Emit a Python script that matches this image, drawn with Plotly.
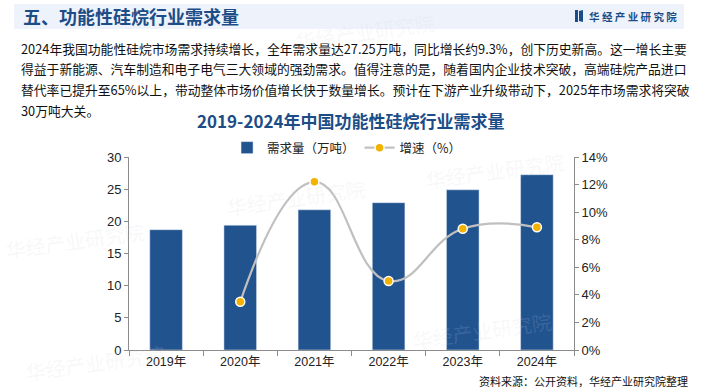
import plotly.graph_objects as go

years = ["2019年", "2020年", "2021年", "2022年", "2023年", "2024年"]
demand = [18.7, 19.4, 21.8, 22.9, 24.9, 27.25]
growth_years = ["2020年", "2021年", "2022年", "2023年", "2024年"]
growth = [3.5, 12.2, 5.0, 8.8, 8.9]

page_title = "五、功能性硅烷行业需求量"
chart_title = "2019-2024年中国功能性硅烷行业需求量"
paragraph = [
    "2024年我国功能性硅烷市场需求持续增长，全年需求量达27.25万吨，同比增长约9.3%，创下历史新高。这一增长主要",
    "得益于新能源、汽车制造和电子电气三大领域的强劲需求。值得注意的是，随着国内企业技术突破，高端硅烷产品进口",
    "替代率已提升至65%以上，带动整体市场价值增长快于数量增长。预计在下游产业升级带动下，2025年市场需求将突破",
    "30万吨大关。",
]
source = "资料来源：公开资料，华经产业研究院整理"
brand = "华 经 产 业 研 究 院"

FONT = "Arial, 'Liberation Sans', 'Noto Sans CJK SC', sans-serif"
CJK = "'Noto Sans CJK SC', 'Microsoft YaHei', sans-serif"
BLUE = "#21538f"
DARK = "#1d4d87"

W, H = 704, 392
L, R, T, B = 129, 574, 157, 350


def PX(x):
    return (x - L) / (R - L)


def PY(y):
    return (B - y) / (B - T)


fig = go.Figure()
fig.add_trace(go.Bar(
    x=years, y=demand, name="需求量（万吨）", marker_color=BLUE, width=0.44,
))
fig.add_trace(go.Scatter(
    x=growth_years, y=growth, name="增速（%）", yaxis="y2", mode="lines+markers",
    line=dict(color="#c0c0c0", width=2.2, shape="spline", smoothing=1.3),
    marker=dict(color="#f2b200", size=9, line=dict(color="white", width=1.5)),
))

annotations = []
annotations.append(dict(text="<b>" + page_title + "</b>", x=PX(21), y=PY(16), xref="paper", yref="paper",
                        xanchor="left", yanchor="middle", showarrow=False,
                        font=dict(family=CJK, size=18, color=DARK)))
annotations.append(dict(text="<b>" + brand + "</b>", x=PX(587), y=PY(16), xref="paper", yref="paper",
                        xanchor="left", yanchor="middle", showarrow=False,
                        font=dict(family=CJK, size=10.5, color=DARK)))
for i, line in enumerate(paragraph):
    yy = 48 + i * 20.8
    annotations.append(dict(text=line, x=PX(19), y=PY(yy), xref="paper", yref="paper",
                            xanchor="left", yanchor="middle", showarrow=False,
                            font=dict(family=CJK, size=12.8, color="#111111")))
annotations.append(dict(text="<b>" + chart_title + "</b>", x=PX(351), y=PY(120), xref="paper", yref="paper",
                        xanchor="center", yanchor="middle", showarrow=False,
                        font=dict(family=CJK, size=17, color=DARK)))
annotations.append(dict(text=source, x=PX(690), y=PY(381), xref="paper", yref="paper",
                        xanchor="right", yanchor="middle", showarrow=False,
                        font=dict(family=CJK, size=11, color="#111111")))
for (wx, wy) in [(296, 197), (75, 240), (95, 362), (365, 32), (495, 170), (482, 330)]:
    annotations.append(dict(text="华经产业研究院", x=PX(wx), y=PY(wy), xref="paper", yref="paper",
                            xanchor="center", yanchor="middle", showarrow=False, textangle=-8,
                            font=dict(family=CJK, size=20, color="rgba(205,210,220,0.16)")))

shapes = [
    dict(type="rect", xref="paper", yref="paper", x0=PX(14), x1=PX(684), y0=PY(29), y1=PY(4),
         fillcolor="#eef3fb", line=dict(width=0), layer="below"),
    dict(type="rect", xref="paper", yref="paper", x0=PX(575), x1=PX(578), y0=PY(22), y1=PY(10),
         fillcolor=DARK, line=dict(width=0)),
    dict(type="path", xref="paper", yref="paper",
         path=f"M {PX(579)},{PY(11)} L {PX(583)},{PY(10)} L {PX(583)},{PY(22)} L {PX(579)},{PY(21)} Z",
         fillcolor=DARK, line=dict(width=0)),
]

fig.update_layout(
    width=W, height=H,
    margin=dict(l=L, r=W - R, t=T, b=H - B, pad=0),
    paper_bgcolor="white", plot_bgcolor="rgba(0,0,0,0)",
    font=dict(family=FONT, size=12, color="#222222"),
    showlegend=True,
    legend=dict(orientation="h", x=0.49, xanchor="center", y=PY(148), yanchor="middle",
                font=dict(family=CJK, size=12.5, color="#222222"), bgcolor="rgba(0,0,0,0)",
                itemwidth=30, tracegroupgap=0),
    bargap=0.3,
    xaxis=dict(showline=True, linecolor="#8c8c8c", linewidth=1, ticks="outside", tickson="boundaries",
               ticklen=5, tickcolor="#8c8c8c", showgrid=False, tickfont=dict(family=FONT, size=12.5, color="#222")),
    yaxis=dict(range=[0, 30], dtick=5, showline=True, linecolor="#8c8c8c", ticks="outside", ticklen=4,
               tickcolor="#8c8c8c", showgrid=False, zeroline=False, tickfont=dict(size=13)),
    yaxis2=dict(range=[0, 14], dtick=2, overlaying="y", side="right", showline=True, linecolor="#8c8c8c",
                ticks="outside", ticklen=4, tickcolor="#8c8c8c", showgrid=False, zeroline=False,
                ticksuffix="%", tickfont=dict(size=13)),
    annotations=annotations,
    shapes=shapes,
)

fig.write_html("out.html", config={"displayModeBar": False},
               post_script="document.body.style.margin='0';document.body.style.overflow='hidden';")
